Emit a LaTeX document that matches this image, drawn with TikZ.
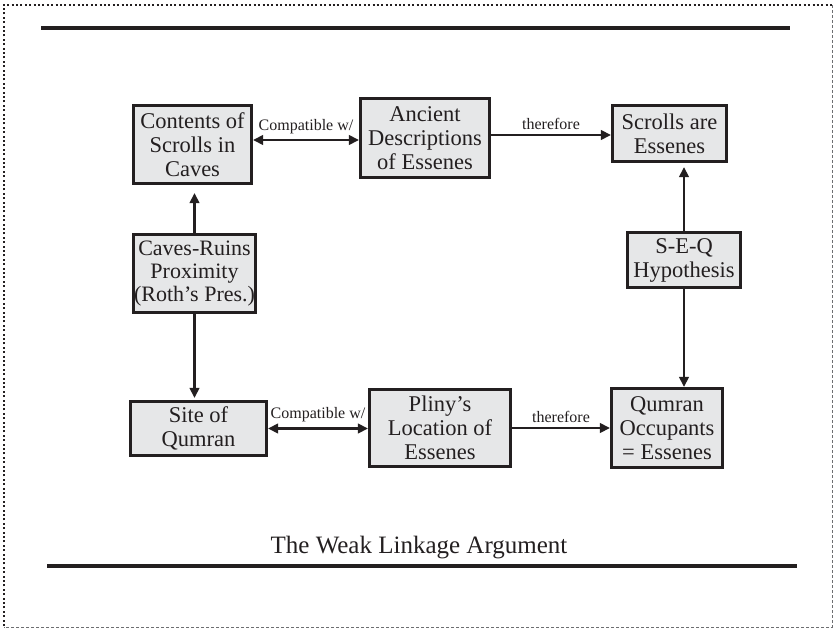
\documentclass[tikz,border=0pt]{standalone}
\usepackage{fontspec}
\setmainfont{Liberation Serif}
\usetikzlibrary{arrows.meta}
\definecolor{ink}{HTML}{231F20}
\definecolor{boxfill}{HTML}{E6E7E8}
\definecolor{frame}{HTML}{6D6E71}
\begin{document}
\begin{tikzpicture}[x=1pt,y=-1pt,
  box/.style={draw=ink, fill=boxfill, line width=2.6pt, align=center, inner sep=0pt,
    font=\fontsize{22.5}{24}\selectfont, text=ink},
  tip/.tip={Triangle[length=10pt,width=9.5pt]},
  link/.style={draw=ink, line width=2.4pt, -tip},
  dlink/.style={draw=ink, line width=2.4pt, tip-tip},
  lbl/.style={font=\fontsize{16}{18}\selectfont, text=ink, inner sep=0pt},
  rule/.style={draw=ink, line width=3.5pt}]
\useasboundingbox (0,0) rectangle (837,628);
% frame
\draw[ink, line width=2pt, dash pattern=on 2pt off 2.4pt] (3.5,626) -- (3.5,5) -- (832,5);
\draw[frame, line width=1pt, dash pattern=on 3pt off 2pt] (832,5) -- (832,627) -- (3.5,627);
% rules
\draw[rule] (41,28) -- (790,28);
\draw[rule] (47,566) -- (797,566);
% nodes
\node[box, minimum width=118.5pt, minimum height=78.5pt] (contents) at (192.5,144.5) {Contents of\\Scrolls in\\Caves};
\node[box, minimum width=129.5pt, minimum height=79.5pt] (ancient) at (425,138) {Ancient\\Descriptions\\of Essenes};
\node[box, minimum width=114.5pt, minimum height=56.5pt] (scrolls) at (669.5,133.5) {Scrolls are\\Essenes};
\node[box, minimum width=122.5pt, minimum height=78.5pt, font=\fontsize{22}{23}\selectfont] (caves) at (194.5,273.5) {Caves-Ruins\\Proximity\\(Roth’s Pres.)};
\node[box, minimum width=113.5pt, minimum height=55.5pt] (seq) at (684,260) {S-E-Q\\Hypothesis};
\node[box, minimum width=136.5pt, minimum height=54.5pt] (site) at (198.5,428.5) {Site of\\Qumran};
\node[box, minimum width=141.5pt, minimum height=77.5pt] (pliny) at (440,428) {Pliny’s\\Location of\\Essenes};
\node[box, minimum width=111.5pt, minimum height=79.5pt] (qo) at (667,428) {Qumran\\Occupants\\= Essenes};
% connectors
\draw[dlink] ([yshift=4.5pt]contents.east) -- ([yshift=4.5pt]contents.east -| ancient.west)
  node[lbl, midway, above=5pt] (l1) {Compatible w/};
\draw[link] ([yshift=3pt]ancient.east) -- ([yshift=3pt]ancient.east -| scrolls.west)
  node[lbl, midway, above=4pt] (l2) {therefore};
\draw[dlink] (site.east) -- (site.east -| pliny.west)
  node[lbl, midway, above=5pt] (l3) {Compatible w/};
\draw[link] (pliny.east) -- (pliny.east -| qo.west)
  node[lbl, midway, above=4pt] (l4) {therefore};
\draw[link, shorten >=8pt] (caves.north) -- (caves.north |- contents.south);
\draw[link, shorten >=2pt] (caves.south) -- (caves.south |- site.north);
\draw[link, shorten >=4pt] (seq.north) -- (seq.north |- scrolls.south);
\draw[link] (seq.south) -- (seq.south |- qo.north);
% title
\node[anchor=base, font=\fontsize{25}{28}\selectfont, text=ink, inner sep=0pt] (title) at (419,553) {The Weak Linkage Argument};
\end{tikzpicture}
\end{document}
